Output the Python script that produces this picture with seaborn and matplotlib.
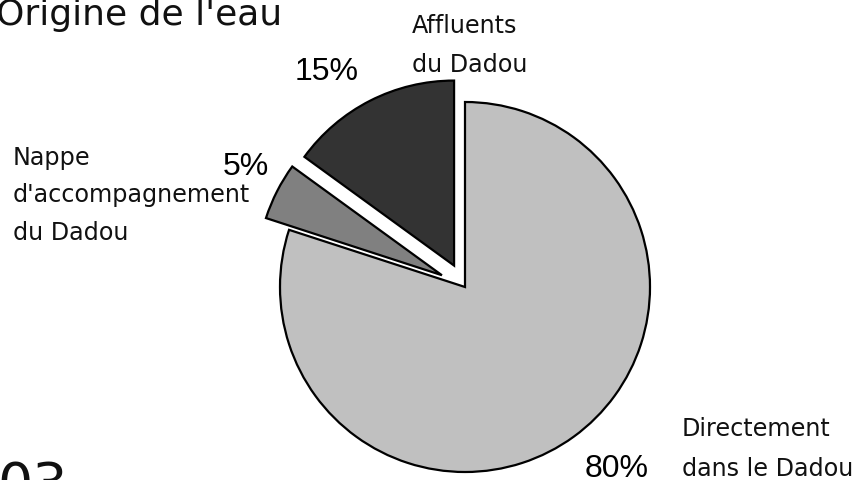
import matplotlib
matplotlib.use("Agg")
import matplotlib.pyplot as plt
import seaborn as sns

# data
categories = ["Directement\ndans le Dadou", "Nappe\nd'accompagnement\ndu Dadou", "Affluents\ndu Dadou"]
shares = [80, 5, 15]
slice_colors = ["#c0c0c0", "#808080", "#333333"]

W, H = 865, 480

sns.set_style("white")
plt.rcParams['font.family'] = ['DejaVu Sans']

fig = plt.figure(figsize=(W / 100, H / 100), dpi=100)


def px(x, y):
    # pixel (from top-left) -> figure fraction
    return x / W, 1 - y / H


# pie: centre at (465, 287) px, radius 185 px
cx, cy, r = 465, 287, 185
ax = fig.add_axes([(cx - r) / W, (H - cy - r) / H, 2 * r / W, 2 * r / H])
wedges, _ = ax.pie(shares, colors=slice_colors, startangle=90, counterclock=False,
                   explode=[0.0, 0.14, 0.13],
                   wedgeprops=dict(edgecolor="black", linewidth=1.6))
for w in wedges:
    w.set_clip_on(False)
ax.set_xlim(-1, 1)
ax.set_ylim(-1, 1)
ax.set_aspect("equal")
ax.axis("off")

# category labels, one line at a time (x, baselines)
label_pos = [(682, [436, 476]), (13, [165, 202, 240]), (412, [33, 72])]
for name, (x, ys) in zip(categories, label_pos):
    for line, y in zip(name.split("\n"), ys):
        fig.text(*px(x, y), line, fontsize=17.2, va="baseline", ha="left", color="#111111")

# percentages
pct_pos = [(585, 477), (223, 175), (295, 80)]
for v, (x, y) in zip(shares, pct_pos):
    fig.text(*px(x, y), f"{v}%", fontsize=23, va="baseline", ha="left",
             family="Liberation Sans", color="black")

# title, cut at the left edge
fig.text(*px(-4, 25), "Origine de l'eau", fontsize=26, va="baseline", ha="left", color="#111111")
# page number, cut at the bottom
fig.text(*px(-3, 460), "03", fontsize=40, va="top", ha="left", color="#111111")

fig.savefig("out.png", dpi=100)
